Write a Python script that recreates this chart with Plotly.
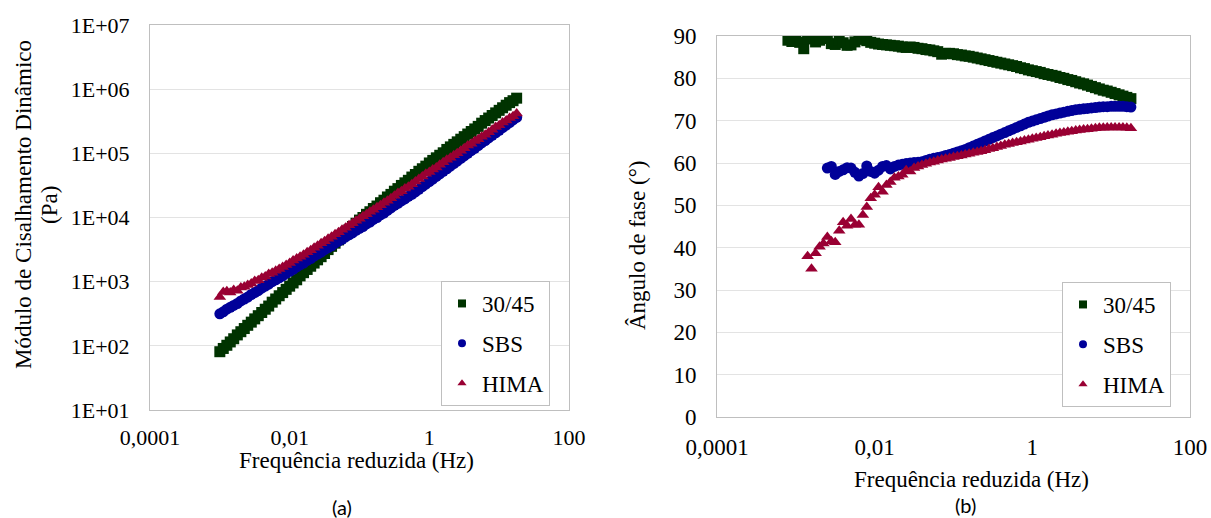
import plotly.graph_objects as go

# ---------------- data ----------------
series_names = ["30/45", "SBS", "HIMA"]
series_colors = ["#003300", "#000099", "#990033"]
series_symbols = ["square", "circle", "triangle-up"]

# (a) dynamic shear modulus |G*| (Pa) vs reduced frequency (Hz)
freq_a = [0.001, 0.00112, 0.00126, 0.00141, 0.00158, 0.00178, 0.002, 0.00224, 0.00251, 0.00282,
          0.00316, 0.00355, 0.00398, 0.00447, 0.00501, 0.00562, 0.00631, 0.00708, 0.00794, 0.00891,
          0.01, 0.0112, 0.0126, 0.0141, 0.0158, 0.0178, 0.02, 0.0224, 0.0251, 0.0282,
          0.0316, 0.0355, 0.0398, 0.0447, 0.0501, 0.0562, 0.0631, 0.0708, 0.0794, 0.0891,
          0.1, 0.112, 0.126, 0.141, 0.158, 0.178, 0.2, 0.224, 0.251, 0.282,
          0.316, 0.355, 0.398, 0.447, 0.501, 0.562, 0.631, 0.708, 0.794, 0.891,
          1, 1.12, 1.26, 1.41, 1.58, 1.78, 2, 2.24, 2.51, 2.82,
          3.16, 3.55, 3.98, 4.47, 5.01, 5.62, 6.31, 7.08, 7.94, 8.91,
          10, 11.2, 12.6, 14.1, 15.8, 17.8]
g_3045 = [81, 91, 102, 115, 129, 148, 166, 186, 209, 234,
          263, 295, 331, 372, 417, 479, 537, 603, 676, 759,
          851, 955, 1070, 1230, 1380, 1550, 1740, 1950, 2190, 2450,
          2750, 3160, 3550, 3980, 4470, 5010, 5620, 6460, 7240, 8130,
          9120, 10000, 11200, 12300, 13800, 15100, 17000, 18600, 20900, 22900,
          25700, 28200, 31600, 34700, 38000, 42700, 46800, 52500, 57500, 63100,
          70800, 77600, 85100, 93300, 102000, 115000, 126000, 138000, 151000, 166000,
          182000, 200000, 219000, 240000, 263000, 295000, 324000, 355000, 389000, 427000,
          468000, 513000, 562000, 617000, 661000, 724000]
g_sbs = [316, 339, 372, 398, 427, 457, 501, 537, 575, 631,
         676, 724, 794, 851, 912, 1000, 1070, 1150, 1230, 1350,
         1450, 1550, 1700, 1820, 1950, 2140, 2290, 2510, 2690, 2880,
         3160, 3390, 3630, 3980, 4270, 4570, 5010, 5370, 5750, 6310,
         6760, 7240, 7940, 8510, 9330, 10000, 11000, 11700, 12900, 14100,
         15500, 16600, 18200, 19500, 21400, 22900, 25100, 27500, 30200, 33100,
         36300, 39800, 43700, 47900, 52500, 57500, 63100, 69200, 75900, 83200,
         91200, 100000, 110000, 120000, 132000, 145000, 158000, 174000, 191000, 209000,
         229000, 251000, 275000, 302000, 331000, 363000]
g_hima = [575, 692, 708, 676, 741, 724, 813, 832, 891, 933,
          1020, 1050, 1150, 1200, 1320, 1380, 1480, 1580, 1700, 1820,
          1950, 2140, 2290, 2450, 2630, 2880, 3090, 3390, 3630, 3980,
          4270, 4680, 5010, 5500, 5890, 6460, 6920, 7590, 8130, 8910,
          9550, 10500, 11200, 12300, 13200, 14500, 15500, 17000, 18200, 20000,
          21900, 24000, 25700, 28200, 30200, 33100, 36300, 39800, 43700, 47900,
          51300, 56200, 60300, 66100, 72400, 79400, 85100, 93300, 100000, 110000,
          120000, 132000, 141000, 155000, 166000, 182000, 195000, 214000, 234000, 257000,
          275000, 302000, 324000, 355000, 380000, 417000]

# (b) phase angle (degrees) vs reduced frequency (Hz)
freq_b = [0.000794, 0.000891] + freq_a
d_3045 = [89.0, 88.7, 89.2, 88.5, 87.0, 89.3, 89.5, 88.6, 89.0, 89.6,
          89.4, 88.2, 88.0, 89.0, 88.4, 87.8, 87.9, 88.6, 89.2, 89.5,
          88.9, 88.5, 88.3, 88.1, 88.0, 87.9, 87.8, 87.7, 87.6, 87.4,
          87.3, 87.4, 87.3, 87.1, 87.0, 86.8, 86.7, 86.5, 86.3, 85.7,
          85.9, 85.9, 85.8, 85.6, 85.5, 85.3, 85.2, 85.0, 84.8, 84.6,
          84.4, 84.2, 84.0, 83.8, 83.6, 83.4, 83.2, 83.0, 82.8, 82.5,
          82.3, 82.0, 81.8, 81.6, 81.4, 81.1, 80.9, 80.7, 80.5, 80.2,
          80.0, 79.7, 79.5, 79.2, 78.9, 78.7, 78.4, 78.1, 77.8, 77.5,
          77.2, 77.0, 76.7, 76.4, 76.1, 75.8, 75.5, 75.2]
d_sbs = [None, None, None, None, None, None, None, None, None, None,
         58.8, 59.2, 57.3, 58.0, 58.4, 58.9, 58.8, 57.8, 56.9, 57.5,
         59.3, 58.0, 57.6, 58.3, 59.2, 59.4, 58.6, 59.2, 59.5, 59.7,
         59.9, 60.0, 60.1, 60.2, 60.3, 60.6, 60.9, 61.1, 61.3, 61.5,
         61.8, 62.0, 62.3, 62.6, 62.9, 63.2, 63.6, 64.0, 64.4, 64.8,
         65.2, 65.6, 66.0, 66.4, 66.8, 67.2, 67.6, 68.0, 68.4, 68.8,
         69.2, 69.6, 69.9, 70.2, 70.5, 70.8, 71.1, 71.4, 71.6, 71.8,
         72.0, 72.2, 72.4, 72.6, 72.7, 72.8, 72.9, 73.0, 73.1, 73.2,
         73.3, 73.3, 73.4, 73.4, 73.4, 73.4, 73.3, 73.2]
d_hima = [None, None, None, None, None, 38.0, 35.0, 38.7, 40.2, 41.0,
          42.5, 41.5, 41.3, 44.0, 46.0, 45.2, 46.8, 45.4, 45.4, 47.7,
          49.6, 51.7, 52.5, 54.3, 53.2, 54.8, 55.5, 56.5, 56.8, 57.2,
          58.3, 58.0, 58.8, 59.2, 59.5, 59.8, 60.1, 60.3, 60.6, 60.8,
          61.0, 61.2, 61.4, 61.6, 61.8, 62.0, 62.2, 62.4, 62.6, 62.8,
          63.0, 63.3, 63.5, 63.8, 64.0, 64.3, 64.5, 64.7, 64.9, 65.1,
          65.3, 65.5, 65.7, 65.9, 66.1, 66.3, 66.5, 66.7, 66.9, 67.1,
          67.2, 67.4, 67.5, 67.7, 67.8, 67.9, 68.0, 68.1, 68.2, 68.3,
          68.3, 68.4, 68.4, 68.4, 68.4, 68.4, 68.3, 68.2]

x_tickvals = [0.0001, 0.01, 1, 100]
x_ticktext = ["0,0001", "0,01", "1", "100"]
ya_tickvals = [1e1, 1e2, 1e3, 1e4, 1e5, 1e6, 1e7]
ya_ticktext = ["1E+01", "1E+02", "1E+03", "1E+04", "1E+05", "1E+06", "1E+07"]
yb_tickvals = [0, 10, 20, 30, 40, 50, 60, 70, 80, 90]

# ---------------- figure ----------------
W, H = 1211, 518
SERIF = "Liberation Serif"
fig = go.Figure()

data_a = [g_3045, g_sbs, g_hima]
data_b = [d_3045, d_sbs, d_hima]
for i in range(3):
    fig.add_trace(go.Scatter(
        x=freq_a, y=data_a[i], mode="markers", xaxis="x", yaxis="y",
        marker=dict(symbol=series_symbols[i], color=series_colors[i], size=11, line=dict(width=0)),
        showlegend=False))
for i in range(3):
    fig.add_trace(go.Scatter(
        x=freq_b, y=data_b[i], mode="markers", xaxis="x2", yaxis="y2",
        marker=dict(symbol=series_symbols[i], color=series_colors[i], size=11, line=dict(width=0)),
        showlegend=False))
# legend entries (small symbols, as in the reference)
for lg, (xa, ya) in (("legend", ("x", "y")), ("legend2", ("x2", "y2"))):
    for i in range(3):
        fig.add_trace(go.Scatter(
            x=[None], y=[None], mode="markers", xaxis=xa, yaxis=ya,
            name=series_names[i], legend=lg, legendgroup=lg + str(i),
            marker=dict(symbol=series_symbols[i], color=series_colors[i], size=8, line=dict(width=0))))


def px_x(p):
    return p / W


def px_y(p):
    return 1 - p / H


axis_common = dict(showline=True, mirror=True, linecolor="#bfbfbf", linewidth=1,
                   ticks="", automargin=False, zeroline=False)
tick_font = dict(family=SERIF, size=22, color="#000")
tick_font_b = dict(family=SERIF, size=23, color="#000")

legend_common = dict(bgcolor="white", bordercolor="#bfbfbf", borderwidth=1,
                     font=dict(family=SERIF, size=23, color="#000"),
                     tracegroupgap=7, itemwidth=30, xanchor="left", yanchor="top")

fig.update_layout(
    width=W, height=H, paper_bgcolor="white", plot_bgcolor="white",
    font=dict(family=SERIF, color="#000"),
    margin=dict(l=0, r=0, t=0, b=0, pad=0, autoexpand=False),
    xaxis=dict(type="log", range=[-4, 2], domain=[px_x(150), px_x(569)], anchor="y",
               tickvals=x_tickvals, ticktext=x_ticktext, showgrid=False,
               ticklabelstandoff=8, tickfont=tick_font, **axis_common),
    yaxis=dict(type="log", range=[1, 7], domain=[px_y(410), px_y(25)], anchor="x",
               tickvals=ya_tickvals, ticktext=ya_ticktext, showgrid=True,
               gridcolor="#e3e3e3", ticklabelstandoff=15, tickfont=tick_font, **axis_common),
    xaxis2=dict(type="log", range=[-4, 2], domain=[px_x(717), px_x(1190)], anchor="y2",
                tickvals=x_tickvals, ticktext=x_ticktext, showgrid=False,
                ticklabelstandoff=9, tickfont=tick_font_b, **axis_common),
    yaxis2=dict(range=[0, 90], domain=[px_y(417), px_y(36)], anchor="x2",
                tickvals=yb_tickvals, showgrid=True, gridcolor="#e3e3e3",
                ticklabelstandoff=15, tickfont=tick_font_b, **axis_common),
    legend=dict(x=px_x(441), y=px_y(281), **legend_common),
    legend2=dict(x=px_x(1062), y=px_y(282), **legend_common),
)

title_font = dict(family=SERIF, size=23, color="#000")
annotations = [
    dict(text="Módulo de Cisalhamento Dinâmico", x=px_x(23), y=px_y(205), textangle=-90),
    dict(text="(Pa)", x=px_x(49), y=px_y(205), textangle=-90),
    dict(text="Frequência reduzida (Hz)", x=px_x(356), y=px_y(460)),
    dict(text="Ângulo de fase (°)", x=px_x(637), y=px_y(245), textangle=-90),
    dict(text="Frequência reduzida (Hz)", x=px_x(971), y=px_y(479)),
]
for a in annotations:
    fig.add_annotation(xref="paper", yref="paper", showarrow=False,
                       xanchor="center", yanchor="middle", font=title_font, **a)
cap_font = dict(family="Lato", size=20, color="#000")
fig.add_annotation(text="(a)", x=px_x(342), y=px_y(507), xref="paper", yref="paper",
                   showarrow=False, xanchor="center", yanchor="middle", font=cap_font)
fig.add_annotation(text="(b)", x=px_x(965), y=px_y(505), xref="paper", yref="paper",
                   showarrow=False, xanchor="center", yanchor="middle", font=cap_font)

# remove the default page margin so the 1211x518 figure fills the window exactly
fig.write_html("out.html", config={"displayModeBar": False},
               post_script="document.body.style.margin='0';document.body.style.overflow='hidden';")
